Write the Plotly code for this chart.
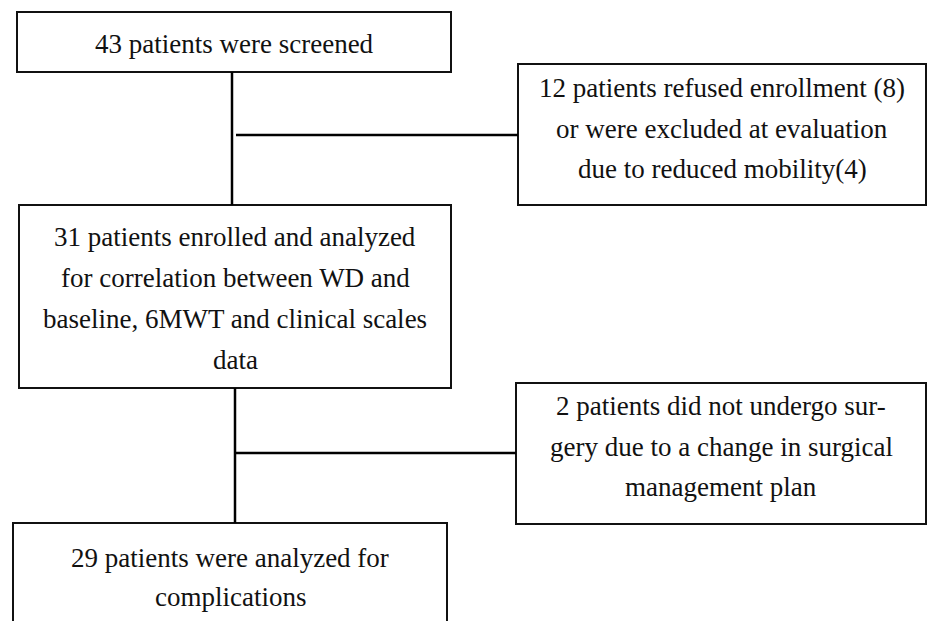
import plotly.graph_objects as go

# ---- content ----
box_lines = [
    ["43 patients were screened"],
    ["12 patients refused enrollment (8)",
     "or were excluded at evaluation",
     "due to reduced mobility(4)"],
    ["31 patients enrolled and analyzed",
     "for correlation between WD and",
     "baseline, 6MWT and clinical scales",
     "data"],
    ["2 patients did not undergo sur-",
     "gery due to a change in surgical",
     "management plan"],
    ["29 patients were analyzed for",
     "complications"],
]

# ---- layout (pixel coordinates, y downward) ----
box_x0 = [17, 518, 19, 516, 13]
box_x1 = [451, 926, 451, 926, 447]
box_y0 = [12, 64, 205, 383, 523]
box_y1 = [72, 205, 388, 524, 640]
line_y0 = [43.5, 88, 237, 406, 558]
line_gap = [0, 40.5, 41, 40.5, 38.5]

# connectors: (x0, y0, x1, y1)
connectors = [
    (232, 72, 232, 205),
    (236, 135, 518, 135),
    (235, 388, 235, 523),
    (235, 453, 516, 453),
]

W, H = 928, 621
fig = go.Figure()
fig.add_trace(go.Scatter(x=[0, W], y=[0, H], mode="markers",
                         marker=dict(opacity=0), hoverinfo="skip", showlegend=False))

shapes = []
for x0, x1, y0, y1 in zip(box_x0, box_x1, box_y0, box_y1):
    if y1 > H:
        path = f"M{x0},{H} L{x0},{y0} L{x1},{y0} L{x1},{H}"
        shapes.append(dict(type="path", path=path, xref="x", yref="y",
                           line=dict(color="#111111", width=2)))
    else:
        shapes.append(dict(type="rect", x0=x0, x1=x1, y0=y0, y1=y1, xref="x", yref="y",
                           line=dict(color="#111111", width=2), fillcolor="rgba(0,0,0,0)"))
for (x0, y0, x1, y1) in connectors:
    shapes.append(dict(type="line", x0=x0, y0=y0, x1=x1, y1=y1, xref="x", yref="y",
                       line=dict(color="#000000", width=2.5)))

annotations = []
for lines, x0, x1, ly, gap in zip(box_lines, box_x0, box_x1, line_y0, line_gap):
    cx = (x0 + x1) / 2
    for i, t in enumerate(lines):
        annotations.append(dict(x=cx, y=ly + i * gap, xref="x", yref="y", text=t,
                                showarrow=False, xanchor="center", yanchor="middle",
                                font=dict(family="Liberation Serif", size=27, color="#111111")))

fig.update_layout(
    width=W, height=H, margin=dict(l=0, r=0, t=0, b=0),
    paper_bgcolor="white", plot_bgcolor="white",
    xaxis=dict(range=[0, W], visible=False, fixedrange=True),
    yaxis=dict(range=[H, 0], visible=False, fixedrange=True),
    shapes=shapes, annotations=annotations, showlegend=False,
)
fig.write_html("out.html", config={"displayModeBar": False},
               post_script="document.body.style.margin='0';document.body.style.overflow='hidden';")
